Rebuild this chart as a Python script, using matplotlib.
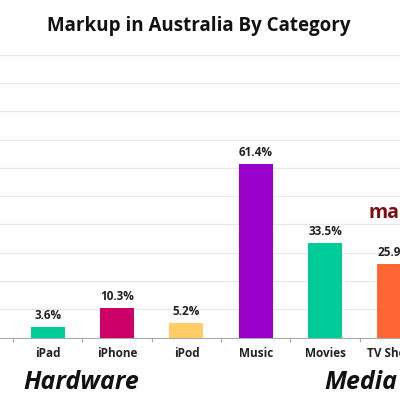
import matplotlib
matplotlib.use('Agg')
import matplotlib.pyplot as plt
import numpy as np

# Data
categories = ['iPad', 'iPhone', 'iPod', 'Music', 'Movies', 'TV Shows']
markup = [3.6, 10.3, 5.2, 61.4, 33.5, 25.9]
bar_colors = ['#00cc99', '#cc0066', '#ffcc66', '#9900cc', '#00cc99', '#ff6633']
y_grid = [10, 20, 30, 40, 50, 60, 70, 80, 90, 100]

plt.rcParams['font.family'] = ['Open Sans', 'DejaVu Sans']

fig = plt.figure(figsize=(4, 4), dpi=100)
ax = fig.add_axes([0, 0.156, 1, 0.707])

x = np.arange(len(categories))
ax.bar(x, markup, width=0.49, color=bar_colors, zorder=3)

for xi, v in zip(x, markup):
    ax.text(xi, v + 1.8, f'{v}%', ha='center', va='bottom',
            fontsize=8.5, fontweight='bold', color='#222222')

for g in y_grid:
    ax.axhline(g, color='#e8e8e8', lw=0.9, zorder=0)

for s in ['left', 'right', 'top']:
    ax.spines[s].set_visible(False)
ax.spines['bottom'].set_color('#aaaaaa')
ax.spines['bottom'].set_linewidth(0.8)

ax.set_yticks([])
ax.set_xticks(x)
ax.set_xticklabels(categories, fontsize=8.5, fontweight='bold', color='#222222')
ax.tick_params(axis='x', which='major', length=0, pad=7)
ax.set_xticks(np.arange(-0.5, len(categories), 1), minor=True)
ax.tick_params(axis='x', which='minor', length=3, color='#aaaaaa', width=0.8)

# limits after ticks so set_xticks does not widen the view
ax.set_xlim(-0.69, 5.08)
ax.set_ylim(0, 100)

fig.text(0.4975, 0.934, 'Markup in Australia By Category', ha='center', va='center',
         fontsize=13.5, fontweight='bold', color='#111111')
fig.text(0.2025, 0.043, 'Hardware', ha='center', va='center',
         fontsize=18, fontweight='bold', style='italic', color='#111111')
fig.text(0.81, 0.043, 'Media', ha='left', va='center',
         fontsize=18, fontweight='bold', style='italic', color='#111111')
fig.text(0.922, 0.467, 'ma', ha='left', va='center',
         fontsize=14, fontweight='bold', color='#7b0f12')

fig.savefig('out.png', dpi=100)
